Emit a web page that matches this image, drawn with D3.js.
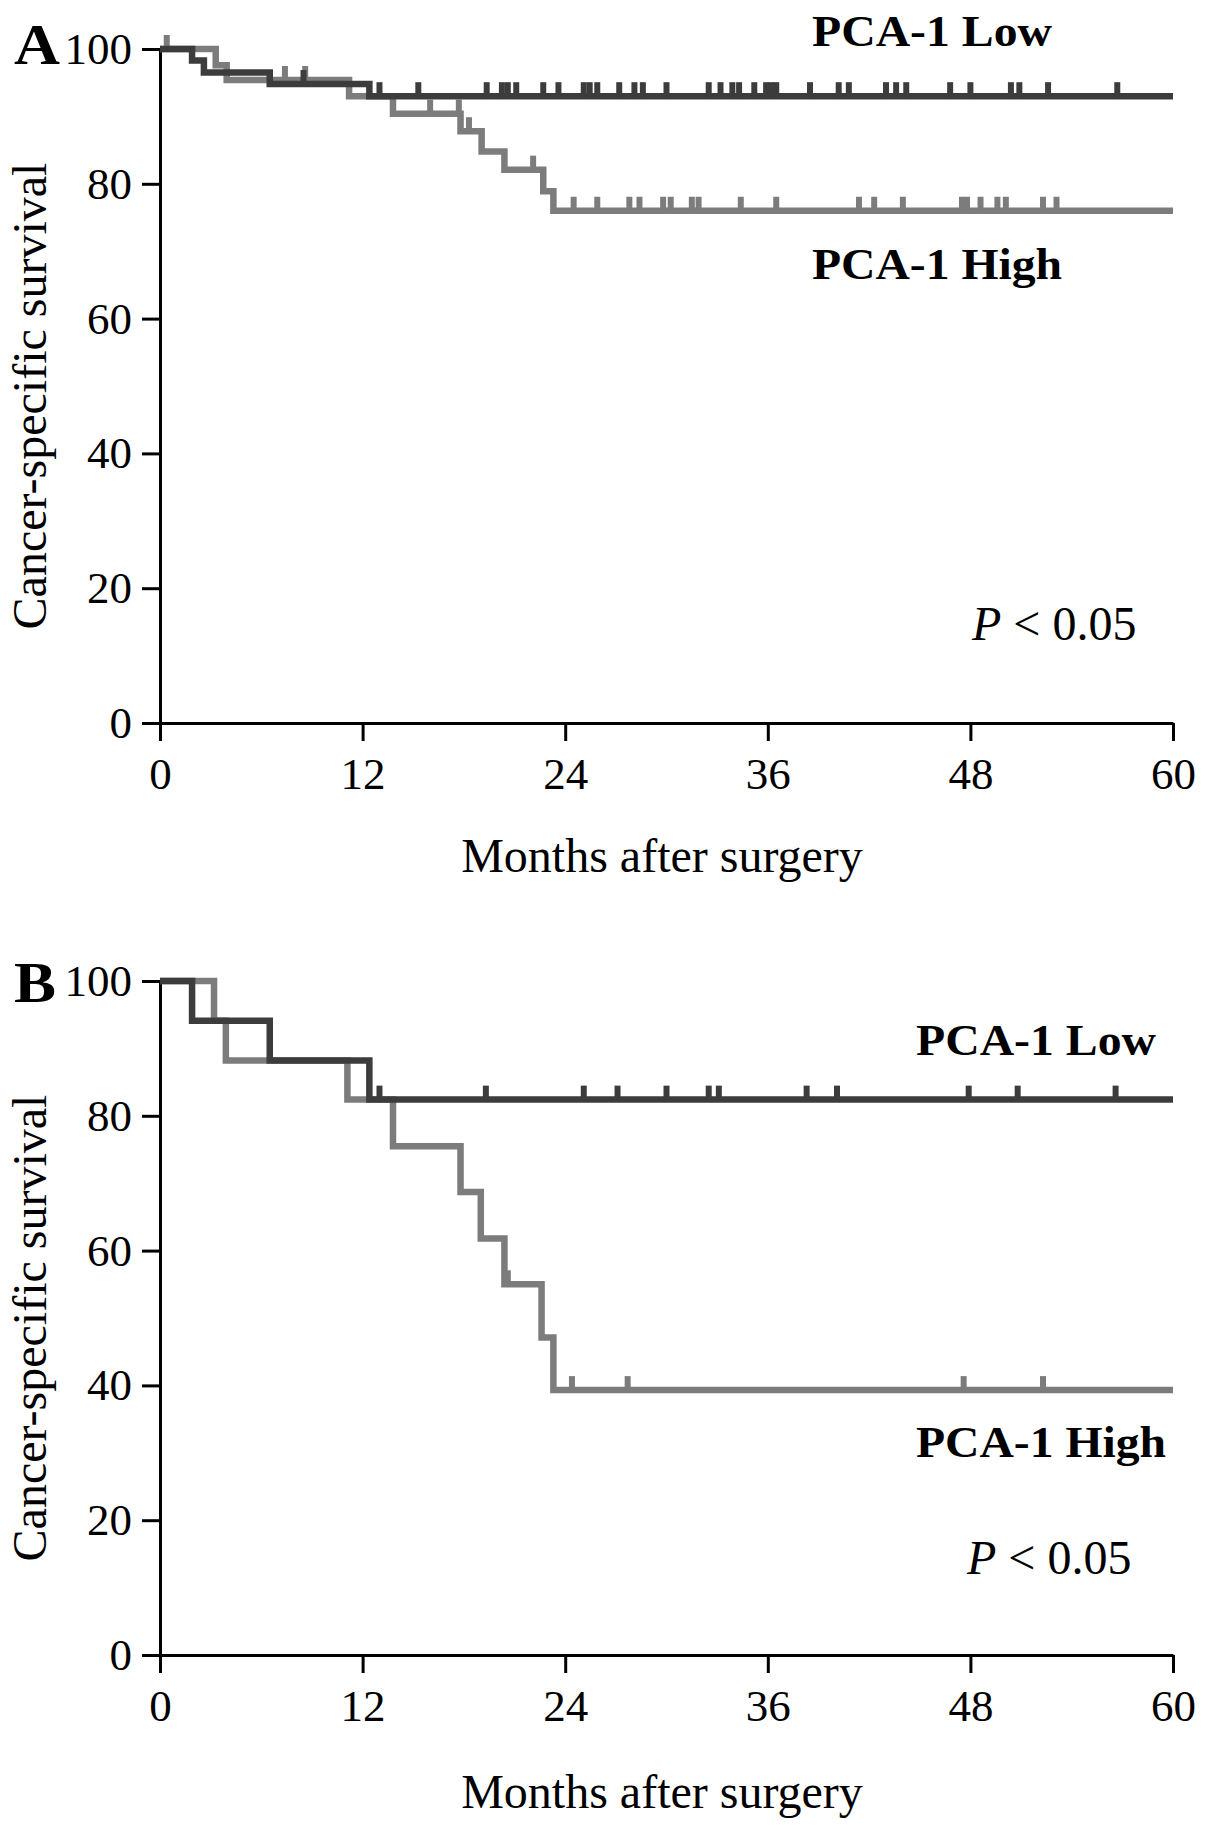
<!DOCTYPE html>
<html lang="en">
<head>
    <meta charset="UTF-8"/>
    <title>Cancer-specific survival by PCA-1</title>
    <script src="https://cdnjs.cloudflare.com/ajax/libs/d3/7.8.5/d3.min.js"></script>
    <style>
        body { margin: 0; background: #fff; }
        svg { display: block; font-family: "Liberation Serif", "Times New Roman", serif; }
    </style>
</head>
<body>
<div id="chart"></div>

<script>
    // Axis ticks
    const monthTicks = [0, 12, 24, 36, 48, 60];
    const survivalTicks = [0, 20, 40, 60, 80, 100];
    const followUpEnd = 60;

    // Panel A: [month, survival %] at each step
    const lowStepsA = [[0, 100], [1.9, 98.3], [2.6, 96.5], [6.5, 94.8], [12.4, 93.0]];
    const highStepsA = [[0, 100], [3.3, 97.6], [3.95, 95.4], [11.2, 93.0], [13.8, 90.4],
        [17.8, 87.8], [19.05, 84.8], [20.4, 82.1], [22.7, 78.9], [23.3, 76.0]];
    const lowCensorA = [8.5, 13.0, 15.3, 19.35, 20.25, 20.6, 21.1, 22.7, 23.6, 25.1, 25.45, 25.9,
        27.2, 28.1, 28.6, 30.0, 32.5, 33.2, 33.9, 34.3, 35.2, 35.9, 36.2, 36.5, 38.5, 40.2, 40.8,
        43.0, 43.6, 44.2, 46.8, 48.0, 50.4, 50.9, 52.6, 56.7];
    const highCensorA = [0.4, 7.4, 8.6, 16.0, 17.7, 18.3, 22.1, 24.5, 25.9, 27.8, 28.4, 29.8, 30.25,
        31.5, 31.9, 34.4, 36.5, 41.4, 42.3, 44.0, 47.5, 47.8, 48.6, 49.6, 50.1, 52.3, 53.1];

    // Panel B
    const lowStepsB = [[0, 100], [1.9, 94.1], [6.5, 88.2], [12.4, 82.4]];
    const highStepsB = [[0, 100], [3.2, 94.1], [3.9, 88.2], [11.1, 82.4], [13.8, 75.5],
        [17.8, 68.7], [19.0, 61.8], [20.4, 55.0], [22.6, 47.1], [23.3, 39.3]];
    const lowCensorB = [13.0, 19.3, 25.1, 27.1, 30.0, 32.5, 33.1, 38.3, 40.1, 47.9, 50.8, 56.6];
    const highCensorB = [20.6, 24.4, 27.7, 47.6, 52.3];

    const width = 1205;
    const height = 1825;
    const darkColor = "#3c3c3c";
    const grayColor = "#7c7c7c";

    const svg = d3.select("#chart")
        .append("svg")
        .attr("width", width)
        .attr("height", height);

    function survivalAt(steps, t) {
        let s = steps[0][1];
        steps.forEach(d => { if (d[0] <= t) s = d[1]; });
        return s;
    }

    function drawPanel(p) {
        const x = d3.scaleLinear().domain([0, 60]).range([160, 1173]);
        const y = d3.scaleLinear().domain([0, 100]).range([p.top + 674, p.top]);

        const g = svg.append("g");

        // Axes
        const xAxis = g.append("g")
            .attr("transform", `translate(0,${y(0)})`)
            .call(d3.axisBottom(x).tickValues(monthTicks).tickSize(18).tickSizeOuter(0).tickPadding(16));

        const yAxis = g.append("g")
            .attr("transform", `translate(${x(0)},0)`)
            .call(d3.axisLeft(y).tickValues(survivalTicks).tickSize(18).tickSizeOuter(0).tickPadding(10));

        [xAxis, yAxis].forEach(a => {
            a.attr("font-family", null).attr("font-size", null);
            a.select(".domain").attr("stroke", "#000").attr("stroke-width", 3);
            a.selectAll(".tick line").attr("stroke", "#000").attr("stroke-width", 3);
            a.selectAll(".tick text").attr("fill", "#000").style("font-size", "45px");
        });

        // Survival curves, high first so low sits on top
        const line = d3.line()
            .x(d => x(d[0]))
            .y(d => y(d[1]))
            .curve(d3.curveStepAfter);

        const series = [
            {steps: p.highSteps, censor: p.highCensor, color: grayColor},
            {steps: p.lowSteps, censor: p.lowCensor, color: darkColor}
        ];

        series.forEach(s => {
            const pts = s.steps.concat([[followUpEnd, s.steps[s.steps.length - 1][1]]]);
            g.append("path")
                .datum(pts)
                .attr("d", line)
                .attr("fill", "none")
                .attr("stroke", s.color)
                .attr("stroke-width", 6.5)
                .attr("stroke-linejoin", "miter");

            g.selectAll(null)
                .data(s.censor)
                .enter()
                .append("line")
                .attr("x1", d => x(d))
                .attr("x2", d => x(d))
                .attr("y1", d => y(survivalAt(s.steps, d)))
                .attr("y2", d => y(survivalAt(s.steps, d)) - 14)
                .attr("stroke", s.color)
                .attr("stroke-width", 6);
        });

        // Axis titles
        g.append("text")
            .attr("x", 662)
            .attr("y", p.top + 823 + p.xLabelShift)
            .attr("text-anchor", "middle")
            .style("font-size", "48px")
            .text("Months after surgery");

        g.append("text")
            .attr("transform", `translate(46,${p.top + 347}) rotate(-90)`)
            .attr("text-anchor", "middle")
            .style("font-size", "48px")
            .text("Cancer-specific survival");

        // Panel letter
        g.append("text")
            .attr("x", 14)
            .attr("y", p.letterY)
            .attr("textLength", p.letterWidth)
            .attr("lengthAdjust", "spacingAndGlyphs")
            .style("font-size", "56px")
            .style("font-weight", "bold")
            .text(p.letter);

        // Group labels
        g.append("text")
            .attr("x", p.labelX)
            .attr("y", p.lowLabelY)
            .attr("textLength", 240)
            .attr("lengthAdjust", "spacingAndGlyphs")
            .style("font-size", "45px")
            .style("font-weight", "bold")
            .text("PCA-1 Low");

        g.append("text")
            .attr("x", p.labelX)
            .attr("y", p.highLabelY)
            .attr("textLength", 250)
            .attr("lengthAdjust", "spacingAndGlyphs")
            .style("font-size", "45px")
            .style("font-weight", "bold")
            .text("PCA-1 High");

        const pText = g.append("text")
            .attr("x", p.pX)
            .attr("y", p.pY)
            .style("font-size", "48px");
        pText.append("tspan").style("font-style", "italic").text("P");
        pText.append("tspan").text(" < 0.05");
    }

    drawPanel({
        top: 49, letter: "A", letterY: 64, letterWidth: 46, xLabelShift: 0,
        lowSteps: lowStepsA, highSteps: highStepsA, lowCensor: lowCensorA, highCensor: highCensorA,
        labelX: 812, lowLabelY: 46, highLabelY: 279, pX: 972, pY: 640
    });

    drawPanel({
        top: 981, letter: "B", letterY: 1002, letterWidth: 42, xLabelShift: 4,
        lowSteps: lowStepsB, highSteps: highStepsB, lowCensor: lowCensorB, highCensor: highCensorB,
        labelX: 916, lowLabelY: 1055, highLabelY: 1457, pX: 967, pY: 1574
    });
</script>
</body>
</html>
